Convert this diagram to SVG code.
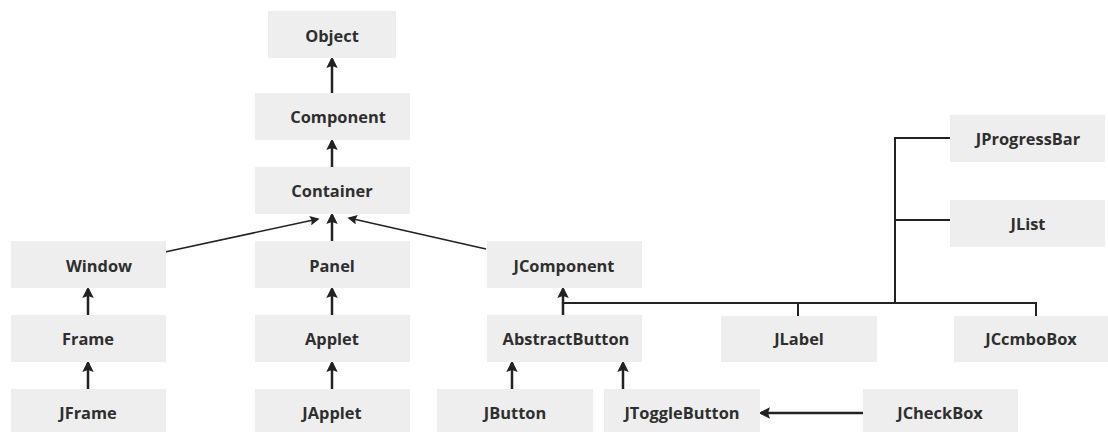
<svg xmlns="http://www.w3.org/2000/svg" width="1108" height="432" viewBox="0 0 1108 432">
<style>
.box{fill:#eeeeee;}
.lbl{font-family:"Open Sans","Noto Sans",sans-serif;font-weight:bold;font-size:16.4px;fill:#2e2e2e;text-anchor:middle;dominant-baseline:central;}
.thick{stroke:#222;stroke-width:2.5;fill:none;marker-end:url(#ah);}
.thin{stroke:#222;stroke-width:1.6;fill:none;marker-end:url(#ahs);}
.line{stroke:#222;stroke-width:2;fill:none;}
</style>
<defs>
<marker id="ah" markerWidth="4.6" markerHeight="4.6" refX="3.6" refY="2.3" orient="auto" markerUnits="strokeWidth">
<path d="M0,0 L4.6,2.3 L0,4.6 L0.8,2.3 Z" fill="#222"/>
</marker>
<marker id="ahs" markerWidth="6" markerHeight="6" refX="5" refY="3" orient="auto" markerUnits="strokeWidth">
<path d="M0,0 L6,3 L0,6 L1,3 Z" fill="#222"/>
</marker>
</defs>
<rect width="1108" height="432" fill="#ffffff"/>
<g id="connectors">
<line class="thick" x1="332" y1="93" x2="332" y2="59"/>
<line class="thick" x1="332" y1="167" x2="332" y2="141"/>
<line class="thick" x1="332" y1="242" x2="332" y2="215"/>
<line class="thin" x1="165" y1="252" x2="318" y2="219"/>
<line class="thin" x1="486" y1="249" x2="349" y2="218"/>
<line class="thick" x1="88" y1="315" x2="88" y2="289"/>
<line class="thick" x1="88" y1="389" x2="88" y2="363"/>
<line class="thick" x1="332" y1="315" x2="332" y2="289"/>
<line class="thick" x1="332" y1="389" x2="332" y2="363"/>
<line class="thick" x1="563" y1="315" x2="563" y2="289"/>
<line class="thick" x1="512" y1="389" x2="512" y2="363"/>
<line class="thick" x1="623" y1="389" x2="623" y2="363"/>
<line class="thick" x1="863" y1="413" x2="761" y2="413"/>
<path class="line" d="M564,303 H1036 V316"/>
<path class="line" d="M798,303 V316"/>
<path class="line" d="M895,303 V138 H950"/>
<path class="line" d="M895,220 H950"/>
</g>
<g id="n-object"><rect class="box" x="268" y="11" width="128" height="47"/><text class="lbl" x="332" y="35">Object</text></g>
<g id="n-component"><rect class="box" x="255" y="93" width="155" height="47"/><text class="lbl" x="338" y="116">Component</text></g>
<g id="n-container"><rect class="box" x="255" y="167" width="155" height="47"/><text class="lbl" x="332" y="190">Container</text></g>
<g id="n-window"><rect class="box" x="11" y="241" width="155" height="47"/><text class="lbl" x="99" y="265">Window</text></g>
<g id="n-panel"><rect class="box" x="255" y="241" width="155" height="47"/><text class="lbl" x="332" y="265">Panel</text></g>
<g id="n-jcomponent"><rect class="box" x="487" y="241" width="155" height="47"/><text class="lbl" x="564" y="265">JComponent</text></g>
<g id="n-frame"><rect class="box" x="11" y="315" width="155" height="47"/><text class="lbl" x="88" y="338">Frame</text></g>
<g id="n-applet"><rect class="box" x="255" y="315" width="155" height="47"/><text class="lbl" x="332" y="338">Applet</text></g>
<g id="n-abstractbutton"><rect class="box" x="487" y="315" width="155" height="47"/><text class="lbl" x="566" y="338">AbstractButton</text></g>
<g id="n-jlabel"><rect class="box" x="721" y="316" width="156" height="46"/><text class="lbl" x="799" y="338">JLabel</text></g>
<g id="n-jcombobox"><rect class="box" x="954" y="316" width="154" height="46"/><text class="lbl" x="1031" y="338">JCcmboBox</text></g>
<g id="n-jprogressbar"><rect class="box" x="950" y="115" width="155" height="47"/><text class="lbl" x="1028" y="138">JProgressBar</text></g>
<g id="n-jlist"><rect class="box" x="950" y="200" width="155" height="47"/><text class="lbl" x="1028" y="223">JList</text></g>
<g id="n-jframe"><rect class="box" x="11" y="389" width="155" height="43"/><text class="lbl" x="88" y="412">JFrame</text></g>
<g id="n-japplet"><rect class="box" x="255" y="389" width="155" height="43"/><text class="lbl" x="332" y="412">JApplet</text></g>
<g id="n-jbutton"><rect class="box" x="437" y="389" width="156" height="43"/><text class="lbl" x="515" y="412">JButton</text></g>
<g id="n-jtogglebutton"><rect class="box" x="604" y="389" width="156" height="43"/><text class="lbl" x="682" y="412">JToggleButton</text></g>
<g id="n-jcheckbox"><rect class="box" x="863" y="389" width="155" height="43"/><text class="lbl" x="940" y="412">JCheckBox</text></g>
</svg>
